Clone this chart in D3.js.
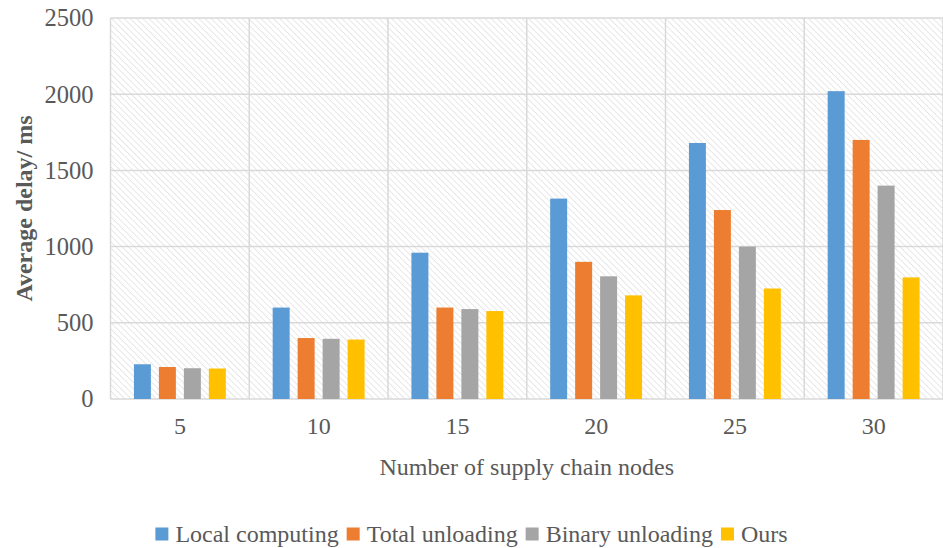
<!DOCTYPE html>
<html>
<head>
<meta charset="utf-8">
<script src="https://cdn.jsdelivr.net/npm/d3@7"></script>
<style>
  html, body { margin: 0; padding: 0; background: #fff; }
  svg { display: block; }
  svg text { font-family: "Liberation Serif", "Times New Roman", Times, serif; }
</style>
</head>
<body>
<svg id="chart" width="943" height="548"></svg>
<script>
// Average delay (ms) by number of supply chain nodes, for each scheme
const categories = ["5", "10", "15", "20", "25", "30"];
const seriesNames = ["Local computing", "Total unloading", "Binary unloading", "Ours"];
const localComputing   = [228, 600, 960, 1315, 1680, 2020];
const totalUnloading   = [210, 400, 600, 900, 1240, 1700];
const binaryUnloading  = [202, 395, 590, 805, 1000, 1400];
const ours             = [200, 390, 577, 680, 725, 798];
const yTicks = [0, 500, 1000, 1500, 2000, 2500];
const colors = ["#5B9BD5", "#ED7D31", "#A5A5A5", "#FFC000"];

const seriesValues = [localComputing, totalUnloading, binaryUnloading, ours];
const rows = categories.map((c, i) => ({
  category: c,
  values: seriesNames.map((s, j) => ({ series: s, value: seriesValues[j][i] }))
}));

const svg = d3.select("#chart");
const margin = { left: 110.5, right: 0, top: 18, bottom: 149 };
const W = 943, H = 548;
const plotW = W - margin.left - margin.right;
const plotH = H - margin.top - margin.bottom;

const font = '"Liberation Serif", "Times New Roman", Times, serif';
const textColor = "#595959";
const gridColor = "#d9d9d9";

// Diagonal hatch fill for the plot background
const defs = svg.append("defs");
const pat = defs.append("pattern")
  .attr("id", "hatch")
  .attr("patternUnits", "userSpaceOnUse")
  .attr("width", 4.4).attr("height", 4.4)
  .attr("patternTransform", "rotate(-45)");
pat.append("rect").attr("width", 4.4).attr("height", 4.4).attr("fill", "#fff");
pat.append("line")
  .attr("x1", 0).attr("y1", 0).attr("x2", 0).attr("y2", 4.4)
  .attr("stroke", "#d6d6d6").attr("stroke-width", 1.1);

const g = svg.append("g").attr("transform", `translate(${margin.left},${margin.top})`);

const x0 = d3.scaleBand().domain(categories).range([0, plotW]).paddingInner(0.28).paddingOuter(0.14);
const outer = d3.scaleBand().domain(categories).range([0, plotW]).padding(0);
const x1 = d3.scaleBand().domain(seriesNames).range([0, x0.bandwidth()]).paddingInner(0.32).paddingOuter(0.16);
const y = d3.scaleLinear().domain([0, 2500]).range([plotH, 0]);

g.append("rect").attr("x", 0).attr("y", 0).attr("width", plotW).attr("height", plotH)
  .attr("fill", "url(#hatch)");

// Horizontal gridlines
g.append("g").selectAll("line").data(yTicks).join("line")
  .attr("x1", 0).attr("x2", plotW)
  .attr("y1", d => y(d)).attr("y2", d => y(d))
  .attr("stroke", gridColor).attr("stroke-width", 1.5);

// Vertical category separators
const seps = categories.map(c => outer(c)).concat([plotW]);
g.append("g").selectAll("line").data(seps).join("line")
  .attr("x1", d => d).attr("x2", d => d)
  .attr("y1", 0).attr("y2", plotH)
  .attr("stroke", gridColor).attr("stroke-width", 1.5);

// Bars
const groups = g.append("g").selectAll("g").data(rows).join("g")
  .attr("transform", d => `translate(${x0(d.category)},0)`);
groups.selectAll("rect").data(d => d.values).join("rect")
  .attr("x", d => x1(d.series))
  .attr("width", x1.bandwidth())
  .attr("y", d => y(d.value))
  .attr("height", d => y(0) - y(d.value))
  .attr("fill", (d, i) => colors[i]);

// Axes
const yAxis = g.append("g")
  .call(d3.axisLeft(y).tickValues(yTicks).tickFormat(d3.format("d")).tickSize(0).tickPadding(17));
yAxis.attr("font-family", null);
yAxis.select(".domain").remove();
yAxis.selectAll("text").style("font-family", font).attr("font-size", 24.5).attr("fill", textColor);

const xAxis = g.append("g").attr("transform", `translate(0,${plotH})`)
  .call(d3.axisBottom(outer).tickSize(0).tickPadding(18));
xAxis.attr("font-family", null);
xAxis.select(".domain").remove();
xAxis.selectAll("text").style("font-family", font).attr("font-size", 24).attr("fill", textColor);

// Axis titles
svg.append("text")
  .attr("transform", `translate(32,${margin.top + plotH / 2}) rotate(-90)`)
  .attr("text-anchor", "middle")
  .style("font-family", font).attr("font-size", 24).attr("font-weight", "bold")
  .attr("fill", textColor)
  .text("Average delay/ ms");

svg.append("text")
  .attr("x", margin.left + plotW / 2).attr("y", 475)
  .attr("text-anchor", "middle")
  .style("font-family", font).attr("font-size", 24)
  .attr("fill", textColor)
  .text("Number of supply chain nodes");

// Legend
const legend = svg.append("g").attr("transform", "translate(0,534)");
const items = legend.selectAll("g").data(seriesNames).join("g");
items.append("rect").attr("width", 13).attr("height", 13).attr("y", -6.5)
  .attr("fill", (d, i) => colors[i]);
items.append("text").attr("x", 20).attr("y", 8)
  .style("font-family", font).attr("font-size", 24).attr("fill", textColor)
  .text(d => d);
let widths = [];
items.each(function() { widths.push(this.getBBox().width); });
const gap = 8;
const total = d3.sum(widths) + gap * (widths.length - 1);
let cx = (W - total) / 2;
items.attr("transform", (d, i) => {
  const t = `translate(${cx},0)`;
  cx += widths[i] + gap;
  return t;
});
</script>
</body>
</html>
